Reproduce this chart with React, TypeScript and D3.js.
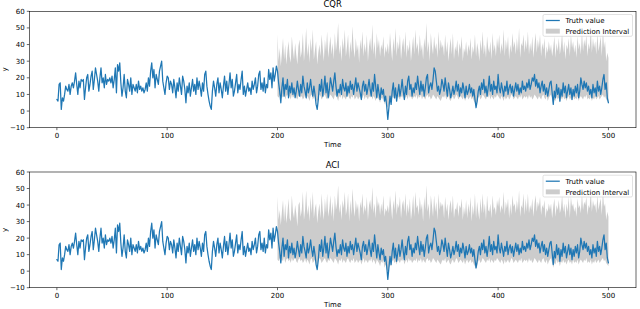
import * as d3 from 'd3';

// truth series, t = 0..500
const truth = [
  7, 6, 16, 17, 1, 8, 6, 10, 15, 13, 12, 16, 10, 15, 17, 14, 18, 23, 16, 10, 18, 14, 19, 18, 19,
  7, 14, 20, 22, 12, 16, 21, 24, 13, 19, 26, 22, 18, 12, 20, 26, 17, 20, 14, 22, 16, 19, 18, 20, 17,
  21, 14, 19, 26, 11, 28, 24, 29, 17, 9, 14, 22, 12, 8, 19, 16, 12, 20, 10, 16, 14, 12, 16, 11, 18,
  13, 15, 12, 14, 11, 13, 17, 12, 20, 15, 24, 29, 20, 25, 14, 22, 19, 16, 24, 27, 30, 18, 14, 10, 17,
  21, 20, 13, 18, 16, 11, 19, 14, 8, 17, 12, 20, 15, 10, 21, 18, 13, 5, 15, 11, 17, 9, 14, 19, 12,
  16, 10, 20, 13, 18, 14, 9, 17, 12, 22, 24, 15, 10, 6, 3, 1, 12, 18, 14, 9, 16, 20, 11, 17, 13,
  8, 15, 21, 12, 18, 10, 16, 23, 14, 19, 9, 12, 17, 22, 11, 16, 13, 19, 24, 10, 15, 9, 13, 17, 12,
  14, 10, 18, 13, 16, 20, 11, 15, 22, 24, 13, 17, 12, 20, 11, 16, 14, 25, 19, 23, 14, 26, 18, 22, 27,
  24, 17, 12, 5, 14, 20, 9, 16, 13, 19, 8, 15, 11, 17, 10, 14, 8, 12, 18, 13, 9, 16, 11, 21, 15,
  12, 8, 17, 11, 14, 19, 13, 9, 15, 10, 4, 1, 7, 16, 12, 19, 9, 14, 21, 11, 17, 8, 13, 20, 16,
  12, 18, 23, 15, 9, 13, 11, 16, 10, 19, 14, 12, 17, 9, 15, 11, 18, 13, 16, 10, 15, 20, 12, 17, 14,
  11, 7, 15, 18, 12, 16, 10, 14, 19, 13, 9, 17, 12, 22, 15, 8, 16, 11, 7, 14, 10, 13, 6, 9, 3,
  -5, 2, 9, 4, 12, 17, 8, 14, 6, 11, 16, 9, 13, 19, 12, 7, 15, 10, 18, 21, 13, 16, 9, 14, 11,
  17, 13, 21, 15, 10, 18, 12, 16, 9, 14, 20, 22, 11, 15, 17, 13, 19, 26, 24, 18, 12, 15, 10, 13, 19,
  16, 12, 20, 14, 9, 17, 13, 8, 11, 15, 10, 13, 18, 12, 16, 9, 14, 11, 17, 13, 8, 15, 10, 12, 16,
  11, 14, 9, 13, 7, 2, 6, 12, 15, 10, 17, 13, 19, 11, 15, 9, 14, 21, 12, 16, 10, 18, 13, 15, 11,
  22, 14, 11, 17, 13, 9, 15, 12, 18, 10, 14, 16, 11, 15, 9, 13, 17, 12, 16, 10, 14, 11, 18, 13, 15,
  12, 17, 14, 19, 13, 16, 20, 18, 22, 15, 19, 14, 17, 11, 15, 18, 12, 16, 10, 14, 9, 13, 17, 18, 11,
  4, 12, 8, 16, 10, 14, 6, 13, 9, 17, 11, 15, 8, 12, 16, 10, 14, 7, 13, 9, 15, 11, 16, 8, 12,
  20, 16, 13, 18, 14, 17, 12, 15, 10, 13, 8, 16, 11, 14, 9, 18, 12, 15, 10, 14, 19, 22, 13, 17, 8, 5,
];

// prediction interval starts here
const intervalStart = 200;

const cqrUpper = [
  46, 30, 38, 27, 35, 44, 31, 40, 28, 36, 42, 33, 29, 45, 37, 31, 41, 34, 28, 39, 43, 32, 36, 47, 30,
  38, 50, 33, 41, 29, 44, 36, 49, 31, 37, 42, 28, 35, 40, 33, 46, 38, 30, 43, 36, 48, 32, 39, 45, 34,
  41, 31, 47, 36, 42, 53, 34, 40, 30, 44, 37, 49, 33, 39, 46, 31, 42, 35, 51, 38, 32, 44, 36, 40, 29,
  43, 37, 48, 33, 41, 35, 46, 30, 39, 44, 36, 52, 34, 42, 31, 47, 38, 43, 33, 40, 37, 45, 32, 39, 35,
  41, 34, 47, 38, 30, 44, 36, 50, 33, 42, 37, 46, 31, 39, 44, 35, 48, 32, 40, 36, 43, 30, 38, 45, 34,
  49, 37, 41, 33, 46, 36, 40, 31, 44, 38, 53, 35, 42, 30, 47, 39, 34, 45, 37, 41, 32, 48, 36, 43, 38,
  40, 33, 46, 35, 42, 30, 38, 44, 34, 47, 31, 39, 36, 43, 32, 41, 37, 45, 30, 38, 35, 42, 33, 40, 36,
  44, 31, 39, 35, 46, 33, 41, 37, 30, 43, 36, 48, 34, 40, 32, 45, 38, 35, 42, 31, 47, 36, 40, 33, 44,
  38, 46, 34, 41, 36, 49, 33, 43, 37, 45, 31, 40, 35, 47, 38, 42, 34, 44, 36, 50, 32, 41, 39, 46, 35,
  43, 37, 48, 34, 41, 36, 45, 32, 40, 47, 35, 43, 38, 46, 33, 41, 37, 44, 31, 39, 35, 42, 36, 40, 33,
  38, 45, 32, 41, 36, 44, 34, 39, 47, 35, 42, 31, 40, 37, 44, 33, 46, 38, 42, 35, 40, 32, 45, 37, 41,
  34, 48, 36, 43, 39, 46, 33, 41, 37, 50, 35, 44, 38, 42, 34, 47, 36, 40, 45, 33, 49, 38, 42, 30, 35, 32,
];

const cqrLower = [
  9, 8, 10, 7, 9, 8, 11, 7, 9, 10, 8, 9, 7, 10, 8, 9, 11, 8, 7, 9, 10, 8, 9, 7, 8,
  10, 7, 9, 8, 6, 9, 10, 7, 8, 9, 7, 5, 8, 10, 9, 7, 8, 9, 10, 8, 7, 9, 8, 10, 9,
  8, 7, 10, 9, 8, 6, 9, 8, 10, 7, 9, 8, 7, 9, 10, 8, 7, 9, 8, 10, 7, 8, 9, 7, 8,
  9, 6, 8, 10, 7, 9, 8, 7, 9, 8, 10, 7, 9, 8, 6, 9, 8, 7, 5, 8, 7, 9, 4, 6, 3,
  2, 4, 6, 5, 8, 9, 7, 8, 6, 9, 8, 7, 9, 8, 10, 6, 8, 9, 7, 10, 8, 9, 7, 8, 9,
  8, 10, 7, 9, 8, 10, 7, 9, 8, 7, 9, 10, 8, 9, 7, 8, 10, 9, 8, 7, 9, 8, 7, 6, 8,
  9, 8, 10, 7, 8, 9, 7, 6, 8, 9, 7, 8, 10, 9, 7, 8, 9, 8, 7, 9, 6, 8, 9, 7, 8,
  9, 7, 8, 6, 5, 3, 5, 8, 9, 7, 8, 10, 9, 8, 7, 9, 8, 10, 7, 9, 8, 7, 9, 8, 10,
  9, 8, 7, 9, 8, 6, 9, 7, 8, 9, 7, 8, 10, 9, 7, 8, 9, 8, 7, 9, 8, 10, 7, 8, 9,
  8, 9, 7, 10, 8, 9, 7, 8, 10, 9, 8, 7, 9, 8, 7, 9, 10, 8, 7, 9, 6, 8, 9, 10, 7,
  4, 7, 6, 9, 7, 8, 5, 8, 7, 9, 7, 8, 6, 8, 9, 7, 8, 6, 9, 7, 8, 7, 9, 6, 8,
  9, 8, 7, 9, 8, 10, 7, 8, 7, 9, 6, 8, 7, 9, 7, 8, 9, 7, 8, 9, 10, 8, 9, 7, 6, 5,
];

const aciUpper = [
  45, 31, 37, 28, 36, 43, 30, 41, 29, 35, 44, 32, 30, 46, 36, 32, 40, 35, 27, 40, 42, 33, 37, 48, 31,
  37, 49, 34, 40, 30, 45, 35, 48, 32, 38, 41, 29, 36, 41, 32, 47, 37, 31, 44, 35, 47, 33, 38, 46, 33,
  42, 30, 46, 37, 41, 52, 35, 41, 31, 43, 38, 48, 34, 38, 47, 30, 43, 34, 50, 39, 33, 43, 37, 41, 30,
  42, 38, 47, 34, 40, 36, 45, 31, 40, 43, 37, 51, 35, 41, 32, 46, 39, 42, 34, 41, 36, 46, 33, 38, 36,
  40, 35, 46, 39, 31, 43, 37, 49, 34, 41, 38, 45, 32, 40, 43, 36, 47, 33, 41, 35, 44, 31, 37, 46, 33,
  48, 38, 40, 34, 45, 37, 41, 30, 45, 37, 52, 36, 41, 31, 46, 40, 33, 46, 36, 42, 31, 47, 37, 42, 39,
  41, 32, 45, 36, 41, 31, 39, 43, 35, 46, 32, 38, 37, 42, 33, 40, 38, 44, 31, 39, 34, 43, 32, 41, 35,
  45, 30, 40, 34, 47, 32, 42, 36, 31, 44, 35, 47, 35, 41, 31, 46, 37, 36, 41, 32, 46, 37, 39, 34, 43,
  39, 45, 35, 40, 37, 48, 34, 42, 38, 44, 32, 41, 34, 46, 39, 41, 35, 43, 37, 49, 33, 40, 38, 47, 34,
  44, 36, 47, 35, 40, 37, 44, 33, 41, 46, 36, 42, 39, 45, 34, 40, 38, 43, 32, 38, 36, 41, 37, 41, 32,
  39, 44, 33, 40, 37, 43, 35, 38, 46, 36, 41, 32, 41, 36, 45, 32, 45, 39, 41, 36, 39, 33, 44, 38, 40,
  35, 47, 37, 42, 40, 45, 34, 40, 38, 49, 36, 43, 39, 41, 35, 46, 37, 41, 44, 34, 48, 39, 41, 31, 36, 33,
];

const aciLower = [
  7, 6, 8, 5, 7, 6, 9, 5, 7, 8, 6, 7, 5, 8, 6, 7, 9, 6, 5, 7, 8, 6, 7, 5, 6,
  8, 5, 7, 6, 4, 7, 8, 5, 6, 7, 5, 3, 6, 8, 7, 5, 6, 7, 8, 6, 5, 7, 6, 8, 7,
  6, 5, 8, 7, 6, 4, 7, 6, 8, 5, 7, 6, 5, 7, 8, 6, 5, 7, 6, 8, 5, 6, 7, 5, 6,
  7, 4, 6, 8, 5, 7, 6, 5, 7, 6, 8, 5, 7, 6, 4, 7, 6, 5, 3, 6, 5, 7, 2, 4, 1,
  0, 2, 4, 3, 6, 7, 5, 6, 4, 7, 6, 5, 7, 6, 8, 4, 6, 7, 5, 8, 6, 7, 5, 6, 7,
  6, 8, 5, 7, 6, 8, 5, 7, 6, 5, 7, 8, 6, 7, 5, 6, 8, 7, 6, 5, 7, 6, 5, 4, 6,
  7, 6, 8, 5, 6, 7, 5, 4, 6, 7, 5, 6, 8, 7, 5, 6, 7, 6, 5, 7, 4, 6, 7, 5, 6,
  7, 5, 6, 4, 3, 1, 3, 6, 7, 5, 6, 8, 7, 6, 5, 7, 6, 8, 5, 7, 6, 5, 7, 6, 8,
  7, 6, 5, 7, 6, 4, 7, 5, 6, 7, 5, 6, 8, 7, 5, 6, 7, 6, 5, 7, 6, 8, 5, 6, 7,
  6, 7, 5, 8, 6, 7, 5, 6, 8, 7, 6, 5, 7, 6, 5, 7, 8, 6, 5, 7, 4, 6, 7, 8, 5,
  2, 5, 4, 7, 5, 6, 3, 6, 5, 7, 5, 6, 4, 6, 7, 5, 6, 4, 7, 5, 6, 5, 7, 4, 6,
  7, 6, 5, 7, 6, 8, 5, 6, 5, 7, 4, 6, 5, 7, 5, 6, 7, 5, 6, 7, 8, 6, 7, 5, 4, 3,
];

const xTicks = [0, 100, 200, 300, 400, 500];
const yTicks = [-10, 0, 10, 20, 30, 40, 50, 60];
const legendLabels = ['Truth value', 'Prediction Interval'];

const W = 640;
const H = 309;
const FONT = 'DejaVu Sans, sans-serif';
const BLUE = '#1f77b4';

const x = d3.scaleLinear().domain([-25, 525]).range([29.3, 636]);
const fmt = d3.format('d');

interface PanelProps {
  title: string;
  top: number;
  bottom: number;
  upper: number[];
  lower: number[];
}

function Panel({ title, top, bottom, upper, lower }: PanelProps) {
  const y = d3.scaleLinear().domain([-10, 60]).range([bottom, top]);
  const [x0, x1] = x.range();

  const line = d3
    .line<number>()
    .x((_, i) => x(i))
    .y((d) => y(d));

  const area = d3
    .area<number>()
    .x((_, i) => x(intervalStart + i))
    .y0((_, i) => y(lower[i]))
    .y1((d) => y(d));

  const lgTop = top + 3.2;
  const lgRight = x1 - 3.5;
  const lgLeft = lgRight - 89.5;

  return (
    <g>
      <path d={area(upper) ?? ''} fill="gray" fillOpacity={0.4} stroke="none" />
      <path
        d={line(truth) ?? ''}
        fill="none"
        stroke={BLUE}
        strokeWidth={1.25}
        strokeLinejoin="round"
        strokeLinecap="round"
      />
      <rect x={x0} y={top} width={x1 - x0} height={bottom - top} fill="none" stroke="#000" strokeWidth={0.6} />

      {xTicks.map((t) => (
        <g key={t}>
          <line x1={x(t)} x2={x(t)} y1={bottom} y2={bottom + 2.5} stroke="#000" strokeWidth={0.6} />
          <text x={x(t)} y={bottom + 10.3} textAnchor="middle" fontSize={7} fontFamily={FONT} fill="#000">
            {fmt(t)}
          </text>
        </g>
      ))}
      {yTicks.map((t) => (
        <g key={t}>
          <line x1={x0 - 2.5} x2={x0} y1={y(t)} y2={y(t)} stroke="#000" strokeWidth={0.6} />
          <text x={x0 - 4.6} y={y(t) + 2.5} textAnchor="end" fontSize={7} fontFamily={FONT} fill="#000">
            {fmt(t)}
          </text>
        </g>
      ))}

      <text x={(x0 + x1) / 2} y={top - 4} textAnchor="middle" fontSize={8.4} fontFamily={FONT} fill="#000">
        {title}
      </text>
      <text x={(x0 + x1) / 2} y={bottom + 19.5} textAnchor="middle" fontSize={7} fontFamily={FONT} fill="#000">
        Time
      </text>
      <text
        transform={`translate(6.5,${(top + bottom) / 2}) rotate(-90)`}
        textAnchor="middle"
        fontSize={7}
        fontFamily={FONT}
        fill="#000"
      >
        y
      </text>

      <rect
        x={lgLeft}
        y={lgTop}
        width={lgRight - lgLeft}
        height={21.8}
        rx={1.5}
        fill="#fff"
        fillOpacity={0.8}
        stroke="#ccc"
        strokeWidth={0.6}
      />
      <line x1={lgLeft + 2.8} x2={lgLeft + 16.8} y1={lgTop + 6} y2={lgTop + 6} stroke={BLUE} strokeWidth={1.25} />
      <rect x={lgLeft + 2.8} y={lgTop + 14.2} width={14} height={4.9} fill="gray" fillOpacity={0.4} />
      {legendLabels.map((lab, i) => (
        <text
          key={lab}
          x={lgLeft + 22.4}
          y={lgTop + 8.5 + i * 10.8}
          fontSize={7}
          fontFamily={FONT}
          fill="#000"
        >
          {lab}
        </text>
      ))}
    </g>
  );
}

export default function App() {
  return (
    <svg
      width={W}
      height={H}
      viewBox={`0 0 ${W} ${H}`}
      style={{ position: 'absolute', left: 0, top: 0, background: '#fff' }}
    >
      <Panel title="CQR" top={11.3} bottom={127.7} upper={cqrUpper} lower={cqrLower} />
      <Panel title="ACI" top={172} bottom={287.7} upper={aciUpper} lower={aciLower} />
    </svg>
  );
}
